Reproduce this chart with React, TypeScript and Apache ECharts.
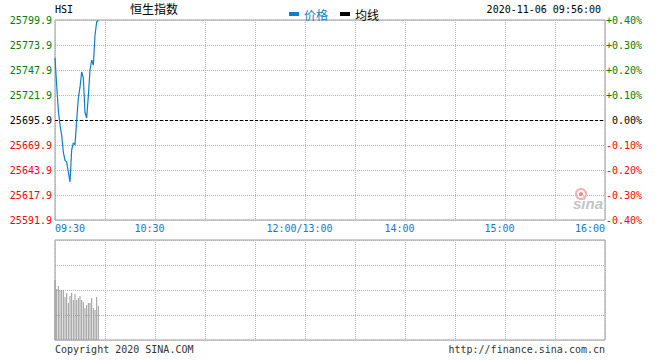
import React, { useEffect, useRef } from "react";
import * as echarts from "echarts";

// ---- data ----
const symbolName = "HSI";
const indexName = "恒生指数";
const stamp = "2020-11-06 09:56:00";
const prevClose = 25695.9;
const yMinPrice = 25591.9;
const yStep = 26;
// minutes since 09:30
const minutes = [0, 1, 2, 3, 4, 5, 6, 7, 8, 9, 10, 11, 12, 13, 14, 15, 16, 17, 18, 19, 20, 21, 22, 23, 24, 25, 26];
const prices = [
  25760.7, 25732.0, 25706.0, 25690.7, 25680.0, 25662.6, 25654.0, 25652.0, 25641.8, 25631.5,
  25664.7, 25672.0, 25670.0, 25695.0, 25718.8, 25730.0, 25745.8, 25739.6, 25704.0, 25698.0,
  25720.9, 25747.9, 25758.3, 25753.0, 25784.0, 25797.8, 25799.6,
];
const volumes = [60, 51, 54, 50, 50, 50, 43, 47, 37, 44, 47, 40, 46, 40, 42, 44, 40, 38, 32, 35, 37, 37, 42, 32, 30, 43, 34];
const avgLine: number[][] = [];
const timeTicks: Record<number, string> = {
  0: "09:30",
  60: "10:30",
  150: "12:00/13:00",
  210: "14:00",
  270: "15:00",
  330: "16:00",
};
const pctTicks = [-40, -30, -20, -10, 0, 10, 20, 30, 40];

const GREEN = "#008000";
const RED = "#ff0000";
const BLUE = "#0a7fcf";
const LABEL_BLUE = "#1479c9";
const MONO = "DejaVu Sans Mono";
const CJK = "Noto Sans CJK SC";

export default function App() {
  const ref = useRef<HTMLDivElement>(null);
  useEffect(() => {
    if (!ref.current) return;
    const chart = echarts.init(ref.current, null, { renderer: "svg" });
    const mid = prevClose - yMinPrice;
    const pricePts = minutes.map((m, i) => [m, +(prices[i] - yMinPrice).toFixed(2)]);
    const volPts = minutes.map((m, i) => [m, volumes[i]]);
    const split = { show: true, lineStyle: { color: "#b4b4b4", type: [1, 1] as any, width: 1 } };
    const option: any = {
      animation: false,
      backgroundColor: "#ffffff",
      legend: {
        left: 284,
        top: 3,
        itemWidth: 10,
        itemHeight: 4,
        itemGap: 12,
        icon: "rect",
        textStyle: { fontFamily: CJK, fontSize: 12 },
        data: [
          { name: "价格", textStyle: { color: BLUE } },
          { name: "均线", textStyle: { color: "#000" } },
        ],
      },
      grid: [
        { left: 55, right: 55, top: 20, height: 200, show: true, borderColor: "#9a9a9a", borderWidth: 1 },
        { left: 55, right: 55, top: 240, height: 100, show: true, borderColor: "#9a9a9a", borderWidth: 1 },
      ],
      xAxis: [
        {
          gridIndex: 0,
          type: "value",
          min: 0,
          max: 330,
          interval: 30,
          axisLine: { show: false },
          axisTick: { show: false },
          splitLine: split,
          axisLabel: {
            show: true,
            margin: 3,
            fontFamily: MONO,
            fontSize: 10,
            color: LABEL_BLUE,
            showMinLabel: true,
            showMaxLabel: true,
            alignMinLabel: "left",
            alignMaxLabel: "right",
            formatter: (v: number) => {
              const t = timeTicks[Math.round(v)];
              if (!t) return "";
              if (v === 0 || v === 330) return t;
              return "{c|" + t + "}";
            },
            rich: { c: { padding: [0, 11, 0, 0], fontFamily: MONO, fontSize: 10, color: LABEL_BLUE } },
          },
        },
        {
          gridIndex: 1,
          type: "value",
          min: 0,
          max: 330,
          interval: 30,
          axisLine: { show: false },
          axisTick: { show: false },
          axisLabel: { show: false },
          splitLine: split,
        },
      ],
      yAxis: [
        {
          gridIndex: 0,
          type: "value",
          min: 0,
          max: 208,
          interval: yStep,
          axisLine: { show: false },
          axisTick: { show: false },
          splitLine: split,
          axisLabel: {
            margin: 3,
            fontFamily: MONO,
            fontSize: 10,
            padding: [0, 0, 5, 0],
            formatter: (v: number) => (yMinPrice + v).toFixed(1),
            color: (v: any) => {
              const n = Number(v);
              return n > mid + 0.01 ? GREEN : n < mid - 0.01 ? RED : "#000";
            },
          },
        },
        {
          gridIndex: 0,
          type: "value",
          position: "right",
          min: pctTicks[0],
          max: pctTicks[pctTicks.length - 1],
          interval: 10,
          axisLine: { show: false },
          axisTick: { show: false },
          splitLine: { show: false },
          axisLabel: {
            margin: 37,
            align: "right",
            fontFamily: MONO,
            fontSize: 10,
            padding: [0, 0, 5, 0],
            formatter: (v: number) => (v > 0 ? "+" : "") + (v / 100).toFixed(2) + "%",
            color: (v: any) => {
              const n = Number(v);
              return n > 0 ? GREEN : n < 0 ? RED : "#000";
            },
          },
        },
        {
          gridIndex: 1,
          type: "value",
          min: 0,
          max: 100,
          interval: 25,
          axisLine: { show: false },
          axisTick: { show: false },
          axisLabel: { show: false },
          splitLine: split,
        },
      ],
      series: [
        {
          name: "价格",
          type: "line",
          xAxisIndex: 0,
          yAxisIndex: 0,
          data: pricePts,
          showSymbol: false,
          symbol: "none",
          color: BLUE,
          lineStyle: { color: BLUE, width: 1.2 },
          markLine: {
            silent: true,
            symbol: "none",
            label: { show: false },
            lineStyle: { color: "#000", type: [3, 2], width: 1 },
            data: [{ yAxis: mid }],
          },
          z: 5,
        },
        {
          name: "均线",
          type: "line",
          xAxisIndex: 0,
          yAxisIndex: 0,
          data: avgLine,
          showSymbol: false,
          color: "#000",
          lineStyle: { color: "#000", width: 1 },
        },
        {
          name: "成交量",
          type: "bar",
          xAxisIndex: 1,
          yAxisIndex: 2,
          data: volPts,
          barWidth: 1,
          itemStyle: { color: "#9a9a9a" },
        },
      ],
      graphic: [
        { type: "text", left: 55, top: 4, style: { text: symbolName, font: `10px '${MONO}'`, fill: "#000" } },
        { type: "text", left: 130, top: 2, style: { text: indexName, font: `12px '${CJK}'`, fill: "#000" } },
        { type: "text", right: 59, top: 4, style: { text: stamp, font: `10px '${MONO}'`, fill: "#000" } },
        { type: "text", left: 55, top: 344, style: { text: "Copyright 2020 SINA.COM", font: `10px '${MONO}'`, fill: "#333" } },
        { type: "text", right: 55, top: 344, style: { text: "http://finance.sina.com.cn", font: `10px '${MONO}'`, fill: "#333" } },
        { type: "circle", shape: { cx: 581, cy: 194, r: 5 }, style: { fill: "none", stroke: "#f2b0b0", lineWidth: 2 }, z: 1 },
        { type: "circle", shape: { cx: 581, cy: 194, r: 2 }, style: { fill: "#ee8a8a" }, z: 1 },
        { type: "text", left: 573, top: 196, style: { text: "sina", font: "italic bold 15px 'Liberation Sans'", fill: "#c4c4c4" }, z: 1 },
      ],
    };
    chart.setOption(option);
    return () => chart.dispose();
  }, []);
  return <div ref={ref} style={{ position: "fixed", left: 0, top: 0, width: 660, height: 360 }} />;
}
